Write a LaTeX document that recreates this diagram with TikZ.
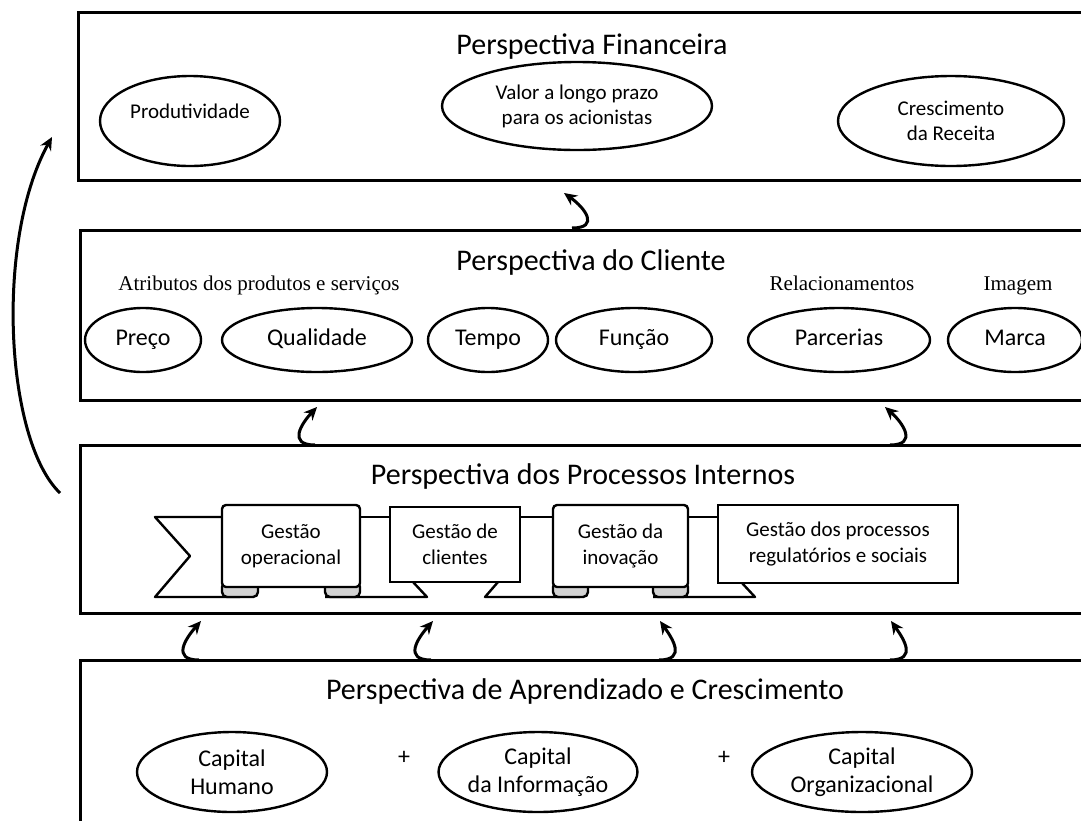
\documentclass[tikz,border=0pt]{standalone}
\usepackage{fontspec}
\setmainfont{Carlito}
\newfontfamily\timesfont{Liberation Serif}
\usetikzlibrary{shapes,arrows,arrows.meta,positioning}

\begin{document}
\begin{tikzpicture}[x=0.5pt, y=-0.5pt, thick]
    \tikzstyle{panel} = [rectangle, draw, line width=1.5pt, inner sep=0pt]
    \tikzstyle{heading} = [anchor=base, font=\fontsize{15}{18}\selectfont]
    \tikzstyle{oval} = [ellipse, draw, line width=1.2pt, fill=white, inner sep=0pt, align=center]
    \tikzstyle{oneline} = [text height=1.5ex, text depth=0.35ex]
    \tikzstyle{smalloval} = [oval, font=\fontsize{10.5}{12.5}\selectfont]
    \tikzstyle{bigoval} = [oval, font=\fontsize{12}{14}\selectfont]
    \tikzstyle{group} = [anchor=base, font=\timesfont\fontsize{10.5}{12}\selectfont]
    \tikzstyle{flag} = [rectangle, draw, line width=1.2pt, fill=white, inner sep=0pt, align=center, font=\fontsize{10.5}{13}\selectfont]
    \tikzstyle{ribbon} = [line width=1.2pt, line join=round]
    \tikzstyle{curl} = [draw, line width=1.2pt, fill=gray!35, rounded corners=2.5pt]
    \tikzstyle{uparrow} = [-{Stealth[length=6.5pt, width=6pt]}, line width=1.5pt]

    \useasboundingbox (0,0) rectangle (1081,820);
    \clip (0,0) rectangle (1081,820);

    % the four panels
    \node [panel, minimum width=509pt, minimum height=84pt] (fin) at (587,96) {};
    \node [panel, minimum width=508pt, minimum height=85pt] (cli) at (588,315) {};
    \node [panel, minimum width=508pt, minimum height=84pt] (proc) at (588,529) {};
    \node [panel, minimum width=508pt, minimum height=95pt] (apr) at (588,755) {};

    % financeira
    \node [heading] (finT) at (592,54) {Perspectiva Financeira};
    \node [smalloval, text height=1.5ex, text depth=10pt, minimum width=90pt, minimum height=45pt] (prod) at (190,121) {Produtividade};
    \node [smalloval, minimum width=135pt, minimum height=44pt] (valor) at (577,106) {Valor a longo prazo\\para os acionistas};
    \node [smalloval, minimum width=113pt, minimum height=45pt] (cresc) at (951,121) {Crescimento\\da Receita};

    % cliente
    \node [heading] (cliT) at (591,270) {Perspectiva do Cliente};
    \node [group] (atrib) at (259,290) {Atributos dos produtos e serviços};
    \node [group] (relac) at (842,290) {Relacionamentos};
    \node [group] (imag) at (1018,290) {Imagem};
    \node [bigoval, oneline, minimum width=58pt, minimum height=32pt] (preco) at (143,340) {Preço};
    \node [bigoval, oneline, minimum width=95pt, minimum height=32pt] (qual) at (317,340) {Qualidade};
    \node [bigoval, oneline, minimum width=60pt, minimum height=32pt] (tempo) at (488,340) {Tempo};
    \node [bigoval, oneline, minimum width=78pt, minimum height=32pt] (funcao) at (634,340) {Função};
    \node [bigoval, oneline, minimum width=91pt, minimum height=32pt] (parc) at (839,340) {Parcerias};
    \node [bigoval, oneline, minimum width=67pt, minimum height=32pt] (marca) at (1015,340) {Marca};

    % processos internos
    \node [heading] (procT) at (583,484) {Perspectiva dos Processos Internos};
    \draw [ribbon, fill=white] (240,517) -- (155,517) -- (190,556) -- (155,597) -- (240,597);
    \draw [ribbon] (360,517) -- (390,517);
    \draw [ribbon] (325,597) -- (427,597) -- (413,582);
    \draw [ribbon] (520,517) -- (553,517);
    \draw [ribbon] (498,582) -- (485,597) -- (580,597);
    \draw [ribbon] (688,517) -- (718,517);
    \draw [ribbon] (653,597) -- (755,597) -- (742,583);
    \draw [curl] (222,582) rectangle (258,597);
    \draw [curl] (325,582) rectangle (360,597);
    \draw [curl] (553,582) rectangle (588,597);
    \draw [curl] (653,582) rectangle (688,597);
    \node [flag, minimum width=69pt, minimum height=41pt, rounded corners=2pt] (gop) at (291,546) {Gestão\\operacional};
    \node [flag, minimum width=65pt, minimum height=37.5pt] (gcli) at (455,544.5) {Gestão de\\clientes};
    \node [flag, minimum width=67.5pt, minimum height=41pt, rounded corners=2pt] (ginov) at (620.5,546) {Gestão da\\inovação};
    \node [flag, minimum width=120pt, minimum height=39pt] (greg) at (838,544) {Gestão dos processos\\regulatórios e sociais};

    % aprendizado e crescimento
    \node [heading] (aprT) at (585,699) {Perspectiva de Aprendizado e Crescimento};
    \node [bigoval, minimum width=95pt, minimum height=40pt] (chum) at (232,772) {Capital\\Humano};
    \node [bigoval, minimum width=95pt, minimum height=40pt] (cinf) at (538,772) {Capital\\da Informação};
    \node [bigoval, minimum width=110pt, minimum height=40pt] (corg) at (862,772) {Capital\\Organizacional};
    \node [font=\fontsize{12}{14}\selectfont] (plus1) at (404,758) {+};
    \node [font=\fontsize{12}{14}\selectfont] (plus2) at (724,758) {+};

    % arrow ends
    \coordinate (bigS) at (60,493);
    \coordinate (bigE) at (52,137);
    \coordinate (a1S) at (572,228);  \coordinate (a1E) at (564,193);
    \coordinate (a2S) at (315,445);  \coordinate (a2E) at (317,407);
    \coordinate (a3S) at (890,445);  \coordinate (a3E) at (885,407);
    \coordinate (a4S) at (199,660);  \coordinate (a4E) at (201,621);
    \coordinate (a5S) at (431,660);  \coordinate (a5E) at (433,621);
    \coordinate (a6S) at (659,660);  \coordinate (a6E) at (660,621);
    \coordinate (a7S) at (890,660);  \coordinate (a7E) at (891,621);

    \draw [uparrow] (bigS) .. controls (5,440) and (-5,240) .. (bigE);
    \draw [uparrow] (a1S) .. controls ([xshift=14]a1S) and ([shift={(13,-20)}]a1S) .. (a1E);
    \draw [uparrow] (a2S) .. controls ([xshift=-14]a2S) and ([shift={(-13,-22)}]a2S) .. (a2E);
    \draw [uparrow] (a3S) .. controls ([xshift=14]a3S) and ([shift={(13,-22)}]a3S) .. (a3E);
    \draw [uparrow] (a4S) .. controls ([xshift=-14]a4S) and ([shift={(-13,-22)}]a4S) .. (a4E);
    \draw [uparrow] (a5S) .. controls ([xshift=-14]a5S) and ([shift={(-13,-22)}]a5S) .. (a5E);
    \draw [uparrow] (a6S) .. controls ([xshift=14]a6S) and ([shift={(13,-22)}]a6S) .. (a6E);
    \draw [uparrow] (a7S) .. controls ([xshift=14]a7S) and ([shift={(13,-22)}]a7S) .. (a7E);
\end{tikzpicture}
\end{document}
